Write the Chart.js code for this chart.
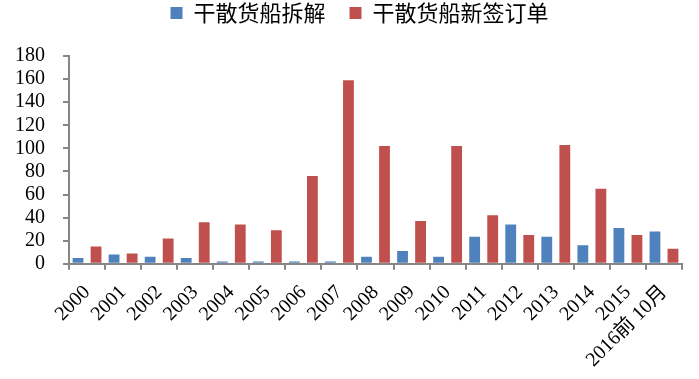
<!DOCTYPE html>
<html>
<head>
<meta charset="utf-8">
<script src="https://cdn.jsdelivr.net/npm/chart.js@4"></script>
<style>
html,body{margin:0;padding:0;background:#fff;}
#wrap{width:699px;height:379px;}
</style>
</head>
<body>
<div id="wrap"><canvas id="c" width="699" height="379"></canvas></div>
<script>
const categories = ["2000","2001","2002","2003","2004","2005","2006","2007","2008","2009","2010","2011","2012","2013","2014","2015","2016前 10月"];
const scrapping = [5, 8, 6, 5, 2, 2, 2, 2, 6, 11, 6, 23.5, 34, 23.5, 16, 31, 28];
const newOrders = [15, 9, 22, 36, 34, 29, 76, 159, 102, 37, 102, 42, 25, 103, 65, 25, 13];
const seriesNames = ["干散货船拆解", "干散货船新签订单"];
const yTicks = [0, 20, 40, 60, 80, 100, 120, 140, 160, 180];

const serif = "'Liberation Serif', 'Noto Sans CJK SC', serif";
const axisGray = "#868686";

const legendSpace = {
  id: 'legendSpace',
  beforeInit(chart) {
    const lg = chart.legend;
    const orig = lg.fit;
    lg.fit = function () { orig.call(this); this.height += 22; };
  },
  afterUpdate(chart) {
    const lg = chart.legend;
    if (lg) {
      lg.left += 20; lg.right += 20;
      if (lg.adjustHitBoxes) lg.adjustHitBoxes();
    }
  }
};

new Chart(document.getElementById('c'), {
  type: 'bar',
  data: {
    labels: categories,
    datasets: [
      { label: seriesNames[0], data: scrapping, backgroundColor: '#4F81BD', barPercentage: 0.6, categoryPercentage: 1.0 },
      { label: seriesNames[1], data: newOrders, backgroundColor: '#C0504D', barPercentage: 0.6, categoryPercentage: 1.0 }
    ]
  },
  options: {
    responsive: false,
    animation: false,
    devicePixelRatio: 1,
    layout: { padding: { left: -3, right: 17, top: -22, bottom: -4 } },
    plugins: {
      tooltip: { enabled: false },
      legend: {
        position: 'top',
        labels: {
          boxWidth: 12, boxHeight: 12, padding: 24,
          color: '#000',
          font: { family: "'Noto Sans CJK SC', sans-serif", size: 22 }
        }
      }
    },
    scales: {
      x: {
        grid: { offset: true, drawOnChartArea: false, drawTicks: true, tickLength: 6, color: axisGray, lineWidth: 2 },
        border: { color: axisGray, width: 2 },
        ticks: { color: '#000', maxRotation: 45, minRotation: 45, autoSkip: false, padding: 11,
          font: { family: serif, size: 20 } }
      },
      y: {
        min: 0, max: 180,
        afterBuildTicks: (axis) => { axis.ticks = yTicks.map(v => ({ value: v })); },
        grid: { drawOnChartArea: false, drawTicks: true, tickLength: 6, color: axisGray, lineWidth: 2 },
        border: { color: axisGray, width: 2 },
        ticks: { color: '#000', padding: 18, autoSkip: false, font: { family: serif, size: 20 } }
      }
    }
  },
  plugins: [legendSpace]
});
</script>
</body>
</html>
